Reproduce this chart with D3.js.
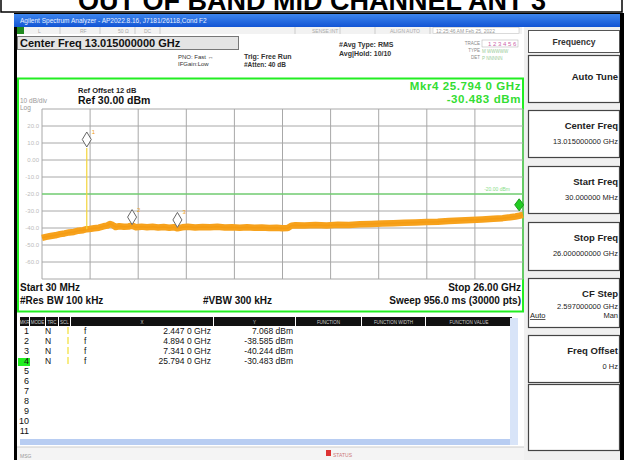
<!DOCTYPE html>
<html><head><meta charset="utf-8">
<script src="https://cdn.jsdelivr.net/npm/d3@7"></script>
<style>body{margin:0;background:#fff}svg{display:block;font-family:"Liberation Sans",Arial,sans-serif}</style>
</head><body>
<script>
// ---- data ----
const titleText = "OUT OF BAND MID CHANNEL ANT 3";
const startGHz = 0.03, stopGHz = 26.0;
const refLevel = 30, dbPerDiv = 10;
const yTickValues = [20, 10, 0, -10, -20, -30, -40, -50, -60];
const yTickLabels = ["20.0", "10.0", "0.00", "-10.0", "-20.0", "-30.0", "-40.0", "-50.0", "-60.0"];
const displayLine = -20;
const traceFreq = [0.03,0.25,0.5,0.75,1.0,1.25,1.5,1.75,2.0,2.25,2.44,2.6,2.85,3.1,3.35,3.55,3.7,3.85,4.0,4.2,4.45,4.7,4.894,5.1,5.4,5.7,6.0,6.3,6.6,6.9,7.15,7.341,7.6,7.9,8.3,8.7,9.1,9.5,9.9,10.3,10.7,11.1,11.5,11.9,12.3,12.7,13.0,13.3,13.5,13.7,14.2,14.8,15.4,16.0,16.6,17.2,17.8,18.4,19.0,19.6,20.2,20.8,21.4,22.0,22.6,23.2,23.8,24.4,24.9,25.3,25.6,25.794,26.0];
const traceDbm = [-45.8,-45.2,-44.7,-44.3,-43.6,-43.2,-42.6,-42.3,-41.6,-41.3,-40.7,-40.6,-40.2,-39.8,-39.0,-38.6,-37.6,-38.3,-39.4,-39.0,-39.3,-39.1,-38.6,-39.5,-39.2,-39.6,-39.3,-39.7,-39.4,-39.8,-39.5,-40.2,-39.6,-39.3,-39.7,-39.4,-39.6,-39.3,-39.7,-39.5,-39.8,-39.6,-39.9,-39.7,-40.0,-39.8,-40.1,-40.0,-38.6,-38.4,-38.6,-38.3,-38.5,-38.1,-38.2,-37.8,-37.6,-37.4,-37.2,-36.9,-36.7,-36.4,-36.3,-35.9,-35.6,-35.3,-35.0,-34.6,-34.2,-33.7,-33.2,-32.8,-32.3];
const spikeFreq = 2.447, spikeBase = -40.7, spikeTop = 7.068;
const markerNum = ["1", "2", "3", "4"];
const markerFreq = [2.447, 4.894, 7.341, 25.794];
const markerDbm = [7.068, -38.585, -40.244, -30.483];
const markerX = ["2.447 0 GHz", "4.894 0 GHz", "7.341 0 GHz", "25.794 0 GHz"];
const markerY = ["7.068 dBm", "-38.585 dBm", "-40.244 dBm", "-30.483 dBm"];
const tableHeaders = ["MKR", "MODE", "TRC", "SCL", "X", "Y", "FUNCTION", "FUNCTION WIDTH", "FUNCTION VALUE"];
const softkeyTitles = ["Auto Tune", "Center Freq", "Start Freq", "Stop Freq", "CF Step", "Freq Offset", ""];
const softkeyValues = ["", "13.015000000 GHz", "30.000000 MHz", "26.000000000 GHz", "2.597000000 GHz", "0 Hz", ""];

// ---- drawing ----
const W = 624, H = 460;
const svg = d3.select("body").append("svg").attr("width", W).attr("height", H);

// title
svg.append("rect").attr("x", 1).attr("y", -5).attr("width", 621).attr("height", 17).attr("fill", "#fff").attr("stroke", "#000").attr("stroke-width", 1.5);
svg.append("text").attr("x", 312).attr("y", 10).attr("text-anchor", "middle").attr("font-size", 27).attr("font-weight", "bold").attr("fill", "#000").text(titleText);

// screen frame
svg.append("rect").attr("x", 14).attr("y", 13).attr("width", 610).attr("height", 447).attr("fill", "#000");
svg.append("rect").attr("x", 17).attr("y", 27).attr("width", 603).attr("height", 433).attr("fill", "#fff");

// blue title bar
const grad = svg.append("defs").append("linearGradient").attr("id", "bar").attr("x1", 0).attr("y1", 0).attr("x2", 0).attr("y2", 1);
grad.append("stop").attr("offset", 0).attr("stop-color", "#3d86ee");
grad.append("stop").attr("offset", 1).attr("stop-color", "#1254d4");
svg.append("rect").attr("x", 14).attr("y", 14).attr("width", 606).attr("height", 13).attr("fill", "url(#bar)");
svg.append("text").attr("x", 20).attr("y", 23).attr("font-size", 6.5).attr("fill", "#e8f0ff").text("Agilent Spectrum Analyzer - AP2022.8.16, J7181/26118,Cond F2");

// status row
svg.append("rect").attr("x", 17).attr("y", 27).attr("width", 505).attr("height", 7).attr("fill", "#f2f2f2");
svg.append("rect").attr("x", 17).attr("y", 27).attr("width", 7).attr("height", 7).attr("fill", "#1f8a1f");
[["L", 38], ["RF", 80], ["50 Ω", 118], ["DC", 144], ["SENSE:INT", 312], ["ALIGN AUTO", 390]].forEach(d => {
  svg.append("text").attr("x", d[1]).attr("y", 33).attr("font-size", 5).attr("fill", "#aaa").text(d[0]);
});
[60, 100, 135, 160, 295, 340, 375, 430].forEach(x => svg.append("line").attr("x1", x).attr("x2", x).attr("y1", 27).attr("y2", 34).attr("stroke", "#ccc"));
svg.append("rect").attr("x", 433).attr("y", 27.5).attr("width", 86).attr("height", 6).attr("fill", "#fff").attr("stroke", "#bbb").attr("stroke-width", 0.5);
svg.append("text").attr("x", 436).attr("y", 33).attr("font-size", 5).attr("fill", "#999").text("12:25:46 AM Feb 25, 2022");

// center freq box
svg.append("rect").attr("x", 17.5).attr("y", 36.5).attr("width", 221).attr("height", 13).attr("fill", "#e4e4e4").attr("stroke", "#777");
svg.append("text").attr("x", 20).attr("y", 47).attr("font-size", 11).attr("font-weight", "bold").attr("fill", "#111").text("Center Freq 13.015000000 GHz");
svg.append("text").attr("x", 178).attr("y", 59).attr("font-size", 6).attr("fill", "#333").text("PNO: Fast  ↔");
svg.append("text").attr("x", 178).attr("y", 66).attr("font-size", 6).attr("fill", "#333").text("IFGain:Low");
svg.append("text").attr("x", 244).attr("y", 59).attr("font-size", 7).attr("font-weight", "bold").attr("fill", "#333").text("Trig: Free Run");
svg.append("text").attr("x", 244).attr("y", 67).attr("font-size", 6.5).attr("font-weight", "bold").attr("fill", "#333").text("#Atten: 40 dB");
svg.append("text").attr("x", 339).attr("y", 47).attr("font-size", 7).attr("font-weight", "bold").attr("fill", "#333").text("#Avg Type: RMS");
svg.append("text").attr("x", 339).attr("y", 56).attr("font-size", 7).attr("font-weight", "bold").attr("fill", "#333").text("Avg|Hold: 10/10");
svg.append("text").attr("x", 480).attr("y", 45).attr("font-size", 4.5).attr("fill", "#888").attr("text-anchor", "end").text("TRACE");
svg.append("text").attr("x", 480).attr("y", 52).attr("font-size", 4.5).attr("fill", "#888").attr("text-anchor", "end").text("TYPE");
svg.append("text").attr("x", 480).attr("y", 59).attr("font-size", 4.5).attr("fill", "#888").attr("text-anchor", "end").text("DET");
svg.append("rect").attr("x", 482).attr("y", 40).attr("width", 36).attr("height", 7).attr("fill", "#fff").attr("stroke", "#aaa").attr("stroke-width", 0.5);
svg.append("text").attr("x", 488).attr("y", 46).attr("font-size", 6).attr("fill", "#c6a").text("1  2  3  4  5  6");
svg.append("text").attr("x", 482).attr("y", 53).attr("font-size", 4.5).attr("fill", "#9c9").text("M WWWWW");
svg.append("text").attr("x", 482).attr("y", 60).attr("font-size", 4.5).attr("fill", "#9c9").text("P NNNNN");

// graph frame
svg.append("rect").attr("x", 18).attr("y", 78.5).attr("width", 505).attr("height", 233).attr("fill", "#fff").attr("stroke", "#22ee22").attr("stroke-width", 2);

const x = d3.scaleLinear().domain([startGHz, stopGHz]).range([42, 523]);
const y = d3.scaleLinear().domain([refLevel - 10 * dbPerDiv, refLevel]).range([279, 109]);

const grid = svg.append("g");
const divFreqs = d3.range(11).map(i => startGHz + i * (stopGHz - startGHz) / 10);
grid.selectAll("line.v").data(divFreqs).join("line")
  .attr("x1", d => x(d)).attr("x2", d => x(d)).attr("y1", y(refLevel - 100)).attr("y2", y(refLevel))
  .attr("stroke", "#a8a8a8").attr("stroke-width", 1);
grid.selectAll("line.h").data(d3.range(11).map(i => refLevel - i * dbPerDiv)).join("line")
  .attr("x1", x(startGHz)).attr("x2", x(stopGHz)).attr("y1", d => y(d)).attr("y2", d => y(d))
  .attr("stroke", "#a8a8a8").attr("stroke-width", 1);

// y labels
svg.selectAll("text.yl").data(yTickValues).join("text")
  .attr("x", 39).attr("y", d => y(d) + 2).attr("text-anchor", "end").attr("font-size", 6)
  .attr("fill", "#bbb").text((d, i) => yTickLabels[i]);
svg.append("text").attr("x", 20).attr("y", 103).attr("font-size", 6.5).attr("fill", "#999").text("10 dB/div");
svg.append("text").attr("x", 20).attr("y", 110).attr("font-size", 6.5).attr("fill", "#999").text("Log");
svg.append("text").attr("x", 78).attr("y", 93).attr("font-size", 7.5).attr("font-weight", "bold").attr("fill", "#222").text("Ref Offset 12 dB");
svg.append("text").attr("x", 78).attr("y", 104).attr("font-size", 10.5).attr("font-weight", "bold").attr("fill", "#111").text("Ref 30.00 dBm");
svg.append("text").attr("x", 521).attr("y", 90).attr("text-anchor", "end").attr("font-size", 11.5).attr("letter-spacing", 0.6).attr("font-weight", "bold").attr("fill", "#33dd33").text("Mkr4 25.794 0 GHz");
svg.append("text").attr("x", 521).attr("y", 103).attr("text-anchor", "end").attr("font-size", 11.5).attr("letter-spacing", 0.6).attr("font-weight", "bold").attr("fill", "#33dd33").text("-30.483 dBm");

// display line
svg.append("line").attr("x1", x(startGHz)).attr("x2", x(stopGHz)).attr("y1", y(displayLine)).attr("y2", y(displayLine)).attr("stroke", "#55dd55").attr("stroke-width", 1);
svg.append("text").attr("x", 510).attr("y", y(displayLine) - 3).attr("text-anchor", "end").attr("font-size", 5).attr("fill", "#8d8").text("-20.00 dBm");

// trace
const pts = traceFreq.map((f, i) => [f, traceDbm[i]]);
const line = d3.line().x(d => x(d[0])).y(d => y(d[1]));
svg.append("path").datum(pts).attr("d", line).attr("fill", "none").attr("stroke", "#f7a21c").attr("stroke-width", 6.5).attr("stroke-linejoin", "round");
svg.append("path").datum(pts).attr("d", line).attr("fill", "none").attr("stroke", "#f49a10").attr("stroke-width", 1.5).attr("opacity", 0.7);
svg.append("line").attr("x1", x(spikeFreq)).attr("x2", x(spikeFreq)).attr("y1", y(spikeBase)).attr("y2", y(spikeTop)).attr("stroke", "#f4d43a").attr("stroke-width", 1.2);

// markers
markerFreq.forEach((f, i) => {
  const cx = x(f), cy = y(markerDbm[i]) - 1;
  const active = i === 3;
  const w = 4.5, h = active ? 12 : 15;
  svg.append("path").attr("d", `M${cx},${cy} L${cx - w},${cy - h / 2} L${cx},${cy - h} L${cx + w},${cy - h / 2} Z`)
    .attr("fill", active ? "#22cc22" : "#fff").attr("stroke", active ? "#1a9a1a" : "#666").attr("stroke-width", 1);
  if (!active) svg.append("text").attr("x", cx + 5).attr("y", cy - h + 2).attr("font-size", 6).attr("fill", "#f0a020").text(markerNum[i]);
});

// bottom annotation
svg.append("text").attr("x", 20).attr("y", 291).attr("font-size", 10).attr("font-weight", "bold").attr("fill", "#111").text("Start 30 MHz");
svg.append("text").attr("x", 521).attr("y", 291).attr("text-anchor", "end").attr("font-size", 10).attr("font-weight", "bold").attr("fill", "#111").text("Stop 26.00 GHz");
svg.append("text").attr("x", 20).attr("y", 304).attr("font-size", 10).attr("font-weight", "bold").attr("fill", "#111").text("#Res BW 100 kHz");
svg.append("text").attr("x", 203).attr("y", 304).attr("font-size", 10).attr("font-weight", "bold").attr("fill", "#111").text("#VBW 300 kHz");
svg.append("text").attr("x", 521).attr("y", 304).attr("text-anchor", "end").attr("font-size", 10).attr("font-weight", "bold").attr("fill", "#111").text("Sweep  956.0 ms (30000 pts)");

// marker table
const colEdges = [20, 30, 46, 59, 71, 214, 296, 362, 426, 513];
tableHeaders.forEach((t, i) => {
  const x0 = colEdges[i], x1 = colEdges[i + 1] - 1;
  svg.append("rect").attr("x", x0).attr("y", 317).attr("width", x1 - x0).attr("height", 9).attr("fill", "#111");
  svg.append("text").attr("x", (x0 + x1) / 2).attr("y", 324).attr("text-anchor", "middle").attr("font-size", 4.5).attr("fill", "#ccc").text(t);
});
svg.append("rect").attr("x", 18).attr("y", 358).attr("width", 12).attr("height", 8).attr("fill", "#22ee22");
d3.range(11).forEach(i => {
  svg.append("text").attr("x", 29).attr("y", 334 + i * 10).attr("text-anchor", "end").attr("font-size", 9).attr("fill", "#111").text(i + 1);
});
markerNum.forEach((m, i) => {
  const ry = 334 + i * 10;
  svg.append("text").attr("x", 45).attr("y", ry).attr("font-size", 8.5).attr("fill", "#111").text("N");
  svg.append("line").attr("x1", 68).attr("x2", 68).attr("y1", ry - 7).attr("y2", ry).attr("stroke", "#f2e033").attr("stroke-width", 1.2);
  svg.append("text").attr("x", 84).attr("y", ry).attr("font-size", 8.5).attr("fill", "#111").text("f");
  svg.append("text").attr("x", 211).attr("y", ry).attr("text-anchor", "end").attr("font-size", 8.5).attr("fill", "#111").text(markerX[i]);
  svg.append("text").attr("x", 293).attr("y", ry).attr("text-anchor", "end").attr("font-size", 8.5).attr("fill", "#111").text(markerY[i]);
});
// scrollbars
svg.append("rect").attr("x", 20).attr("y", 439).attr("width", 490).attr("height", 6).attr("fill", "#b8cdf2");
svg.append("rect").attr("x", 510).attr("y", 318).attr("width", 8).attr("height", 127).attr("fill", "#d8e4f8");
svg.append("rect").attr("x", 17).attr("y", 447).attr("width", 603).attr("height", 13).attr("fill", "#f4f4f4");
svg.append("line").attr("x1", 17).attr("x2", 620).attr("y1", 447).attr("y2", 447).attr("stroke", "#ccc");
svg.append("text").attr("x", 20).attr("y", 458).attr("font-size", 5).attr("fill", "#999").text("MSG");
svg.append("rect").attr("x", 326).attr("y", 450).attr("width", 5).attr("height", 6).attr("fill", "#d33");
svg.append("text").attr("x", 333).attr("y", 457).attr("font-size", 5).attr("fill", "#c77").text("STATUS");

// softkey panel
svg.append("rect").attr("x", 524).attr("y", 27).attr("width", 96).attr("height", 433).attr("fill", "#f0f0f0");
svg.append("rect").attr("x", 528.5).attr("y", 30.5).attr("width", 91).attr("height", 22).attr("fill", "#fff").attr("stroke", "#555");
svg.append("text").attr("x", 574).attr("y", 45).attr("text-anchor", "middle").attr("font-size", 8.5).attr("font-weight", "bold").attr("fill", "#333").text("Frequency");
const keyTops = [55, 110, 166, 222, 278, 335, 384];
const keyHeights = [47, 47, 47, 48, 49, 47, 66];
softkeyTitles.forEach((t, i) => {
  const ty = keyTops[i];
  svg.append("rect").attr("x", 528.5).attr("y", ty + 0.5).attr("width", 91).attr("height", keyHeights[i]).attr("fill", "#fff").attr("stroke", "#444").attr("stroke-width", 1.2);
  if (!t) return;
  const titleY = i === 0 ? ty + 25 : ty + 19;
  svg.append("text").attr("x", 618).attr("y", titleY).attr("text-anchor", "end").attr("font-size", 9.5).attr("font-weight", "bold").attr("fill", "#222").text(t);
  if (softkeyValues[i]) svg.append("text").attr("x", 618).attr("y", titleY + (i === 4 ? 12 : 15)).attr("text-anchor", "end").attr("font-size", 7.5).attr("fill", "#222").text(softkeyValues[i]);
});
svg.append("text").attr("x", 530).attr("y", 318).attr("font-size", 7.5).attr("fill", "#222").attr("text-decoration", "underline").text("Auto");
svg.append("text").attr("x", 618).attr("y", 318).attr("text-anchor", "end").attr("font-size", 7.5).attr("fill", "#222").text("Man");
</script>
</body></html>
